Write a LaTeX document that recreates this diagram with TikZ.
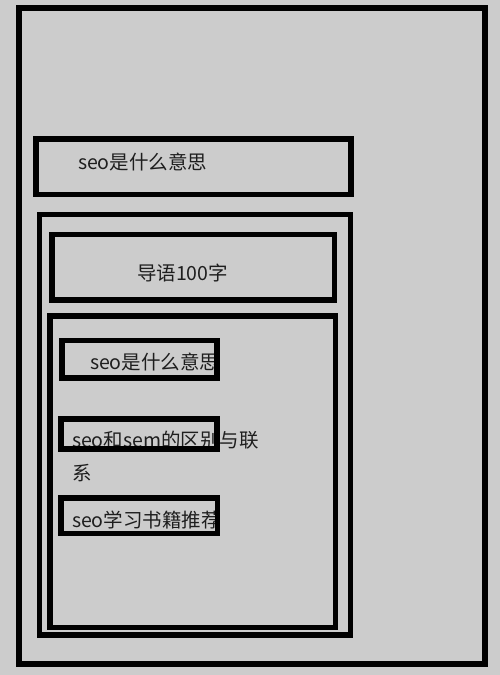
\documentclass[tikz,border=0pt]{standalone}
\usepackage{fontspec}
\setmainfont{Noto Sans CJK SC}
\definecolor{bg}{RGB}{204,204,204}
\definecolor{ink}{RGB}{30,30,30}
\begin{document}
\begin{tikzpicture}[x=1pt,y=-1pt,
  frame/.style={draw=black,line width=5.5pt,rectangle,inner sep=0pt,outer sep=0pt},
  label/.style={inner sep=0pt,outer sep=0pt,anchor=base west,text=ink,font=\fontsize{19.5pt}{33pt}\selectfont}]
\fill[bg] (0,0) rectangle (500,675);
\useasboundingbox (0,0) rectangle (500,675);
% texts (drawn under the frames)
\node[label] (t1) at (78,169.5) {seo是什么意思};
\node[label] (t2) at (137,280.5) {导语100字};
\begin{scope}
  \clip (0,0) rectangle (220,675);
  \node[label] (t3) at (90,369.5) {seo是什么意思};
  \node[label] (t5) at (72,527.5) {seo学习书籍推荐};
\end{scope}
\node[label] (t4) at (72,447.5) {seo和sem的区别与联};
\node[label] (t4b) at (72,480.5) {系};
% frames
\node[frame,line width=6pt,minimum width=466pt,minimum height=655.5pt] (outer) at (252,335.75) {};
\node[frame,minimum width=315pt,minimum height=55.5pt] (b1) at (193.5,166.75) {};
\node[frame,minimum width=311pt,minimum height=420.5pt] (b2) at (195,424.75) {};
\node[frame,minimum width=282.5pt,minimum height=65.5pt] (b3) at (193.25,267.25) {};
\node[frame,minimum width=285.5pt,minimum height=311.5pt] (b4) at (192.75,471.75) {};
\node[frame,minimum width=155pt,minimum height=37.5pt] (i1) at (139.5,359.25) {};
\node[frame,minimum width=156pt,minimum height=30pt] (i2) at (139,434) {};
\node[frame,minimum width=156.5pt,minimum height=35.5pt] (i3) at (139.25,515.75) {};
\end{tikzpicture}
\end{document}
